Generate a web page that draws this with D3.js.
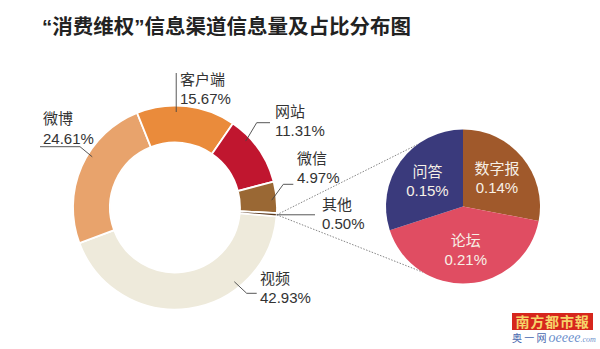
<!DOCTYPE html>
<html><head><meta charset="utf-8">
<script src="https://cdn.jsdelivr.net/npm/d3@7/dist/d3.min.js"></script>
<style>
html,body{margin:0;padding:0;background:#fff;}
svg{display:block;}
text{font-family:"Liberation Sans","Noto Sans CJK SC",sans-serif;}
</style></head><body>
<svg id="c" width="600" height="349"></svg>
<script>
// ---- data ----
const title = "“消费维权”信息渠道信息量及占比分布图";
const categories = ["视频", "微博", "客户端", "网站", "微信", "其他"];
const shares = [42.93, 24.61, 15.67, 11.31, 4.97, 0.50];
const subCategories = ["数字报", "论坛", "问答"];
const subShares = [0.14, 0.21, 0.15];

// ---- styles / layout ----
const colors = {"视频":"#EEEADB","微博":"#E8A36C","客户端":"#EA8B3B","网站":"#C0162F","微信":"#9A6834","其他":"#5A391D"};
const subColors = {"数字报":"#A0592B","论坛":"#E04D62","问答":"#3A3A7C"};
const rad = d => d * Math.PI / 180;
const fmt = v => d3.format(".2f")(v) + "%";

const donut = {cx:175, cy:207.5, r0:65, r1:102, start:95};
const sub = {cx:463, cy:206.5, r:77, labelR:44};

const labelLayout = {
  "视频":  {x:260, y:283.5, leader:[[256.7,293.3],[246.7,293.3]], t:0.30, r:95},
  "微博":  {x:43,  y:124,   leader:[[40,146.7],[80,146.7]], t:0.586, r:97},
  "客户端": {x:180, y:84.5,  leader:[[null,73]], t:0.40, r:95.5},
  "网站":  {x:275, y:116.5, leader:[[270,122.7],[256.7,122.7]], t:0.30, r:97},
  "微信":  {x:297, y:163.5, leader:[[293.3,184.3],[283.3,184.3]], t:0.58, r:97},
  "其他":  {x:322, y:209.5, leader:[[315,null]], t:0.5, r:102}
};

const svg = d3.select("#c");
const fs = 15, lineGap = 19.5;

svg.append("text").attr("x", 42).attr("y", 34)
  .attr("font-size", 20.5).attr("font-weight", 700).attr("fill", "#222")
  .style("font-family", "'Liberation Sans','Noto Sans CJK SC',sans-serif")
  .text(title);

const ptOn = (c, a, r) => [c.cx + r * Math.sin(a), c.cy - r * Math.cos(a)];

// ---- donut ----
const pie = d3.pie().sort(null).value(d => d.v)
  .startAngle(rad(donut.start)).endAngle(rad(donut.start + 360));
const arcs = pie(categories.map((c, i) => ({c, v: shares[i]})));
const arc = d3.arc().innerRadius(donut.r0).outerRadius(donut.r1);
const g = svg.append("g").attr("transform", `translate(${donut.cx},${donut.cy})`);
g.selectAll("path").data(arcs).join("path")
  .attr("d", arc).attr("fill", d => colors[d.data.c])
  .attr("stroke", "#fff").attr("stroke-width", 1.8);

// leaders + labels
arcs.forEach(d => {
  const L = labelLayout[d.data.c];
  const a = d.startAngle + L.t * (d.endAngle - d.startAngle);
  const end = ptOn(donut, a, L.r);
  const pts = L.leader.map(p => [p[0] == null ? end[0] : p[0], p[1] == null ? end[1] : p[1]]);
  pts.push(end);
  svg.append("path").attr("d", d3.line()(pts))
    .attr("fill", "none").attr("stroke", "#444").attr("stroke-width", 0.9);
  const t = svg.append("text").attr("font-size", fs).attr("fill", "#333");
  t.append("tspan").attr("x", L.x).attr("y", L.y).text(d.data.c);
  t.append("tspan").attr("x", L.x).attr("y", L.y + lineGap).text(fmt(d.data.v));
});

// ---- connector dotted lines ----
const other = arcs[arcs.length - 1];
const P = ptOn(donut, (other.startAngle + other.endAngle) / 2, donut.r1);
const dirToP = Math.atan2(P[0] - sub.cx, -(P[1] - sub.cy));
[rad(56), -rad(56)].forEach(off => {
  const Q = ptOn(sub, dirToP + off, sub.r);
  svg.append("line").attr("x1", P[0]).attr("y1", P[1]).attr("x2", Q[0]).attr("y2", Q[1])
    .attr("stroke", "#666").attr("stroke-width", 0.8).attr("stroke-dasharray", "1.5,1.5");
});

// ---- sub pie ----
const spie = d3.pie().sort(null).value(d => d.v).startAngle(0).endAngle(2 * Math.PI);
const sarcs = spie(subCategories.map((c, i) => ({c, v: subShares[i]})));
const sarc = d3.arc().innerRadius(0).outerRadius(sub.r);
const sg = svg.append("g").attr("transform", `translate(${sub.cx},${sub.cy})`);
sg.selectAll("path").data(sarcs).join("path")
  .attr("d", sarc).attr("fill", d => subColors[d.data.c]);
const lab = d3.arc().innerRadius(sub.labelR).outerRadius(sub.labelR);
sarcs.forEach(d => {
  const [x, y] = lab.centroid(d);
  const t = sg.append("text").attr("font-size", fs).attr("fill", "#F7F0E6").attr("text-anchor", "middle");
  t.append("tspan").attr("x", x).attr("y", y - 9.5 + 5.5).text(d.data.c);
  t.append("tspan").attr("x", x).attr("y", y + 9.5 + 5.5).text(fmt(d.data.v));
});

// ---- watermark ----
const wm = svg.append("g");
wm.append("rect").attr("x", 512).attr("y", 313).attr("width", 81).attr("height", 17).attr("fill", "#D6261D");
wm.append("text").attr("x", 552.5).attr("y", 326.5).attr("text-anchor", "middle")
  .attr("font-size", 14).attr("font-weight", 700).attr("fill", "#F6D46A")
  .style("font-family", "'Noto Sans CJK SC',sans-serif").attr("letter-spacing", 0.8).text("南方都市報");
const w2 = wm.append("text").attr("x", 512).attr("y", 342).attr("fill", "#4767AE");
w2.append("tspan").attr("font-size", 10).attr("letter-spacing", 2.2)
  .style("font-family", "'Noto Sans CJK SC',sans-serif").text("奥一网");
w2.append("tspan").attr("font-size", 14).attr("font-style", "italic").attr("fill", "#6C8FCC")
  .style("font-family", "'Liberation Serif',serif").text("oeeee");
w2.append("tspan").attr("font-size", 8).attr("font-style", "italic").attr("fill", "#6C8FCC")
  .style("font-family", "'Liberation Serif',serif").text(".com");
</script>
</body></html>
